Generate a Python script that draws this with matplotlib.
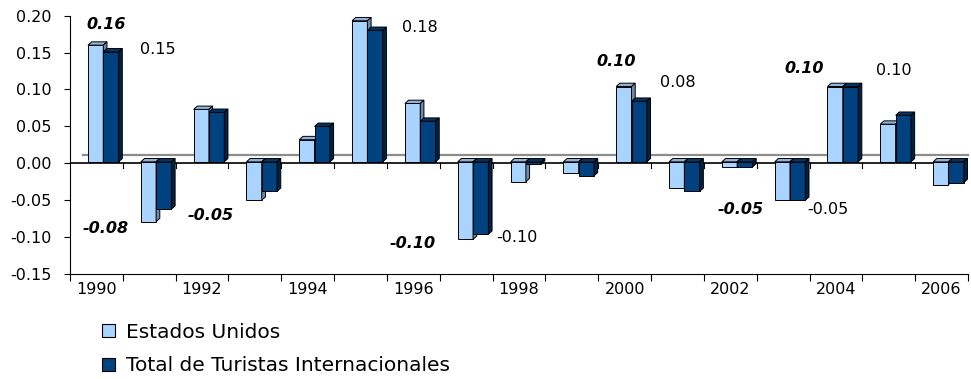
import numpy as np
import matplotlib
matplotlib.use("Agg")
import matplotlib.pyplot as plt
from matplotlib.patches import Polygon, Patch

plt.rcParams["font.family"] = ["DejaVu Sans"]

years = list(range(1990, 2007))
estados_unidos = [0.16, -0.079, 0.073, -0.050, 0.032, 0.193, 0.081, -0.103, -0.025,
                  -0.013, 0.104, -0.034, -0.005, -0.050, 0.104, 0.053, -0.029]
total_turistas = [0.151, -0.062, 0.069, -0.038, 0.050, 0.180, 0.057, -0.096, -0.001,
                  -0.017, 0.084, -0.038, -0.005, -0.050, 0.104, 0.065, -0.026]
series_names = ["Estados Unidos", "Total de Turistas Internacionales"]

# labelled values: (year, series index, x offset from category, y position, bold italic)
value_labels = [
    (1990, 0, 0.19, 0.1886, True),
    (1990, 1, 1.17, 0.1547, False),
    (1991, 0, -0.82, -0.0876, True),
    (1993, 0, -0.83, -0.0700, True),
    (1995, 1, 1.13, 0.1845, False),
    (1997, 0, -1.01, -0.1079, True),
    (1997, 1, 0.96, -0.0998, False),
    (2000, 0, -0.16, 0.1385, True),
    (2000, 1, 1.00, 0.1100, False),
    (2003, 0, -0.80, -0.0619, True),
    (2003, 1, 0.85, -0.0619, False),
    (2004, 0, -0.60, 0.1290, True),
    (2004, 1, 1.10, 0.1260, False),
]

# front / top / side face colours for each series
face_colors = [
    ("#a8d4ff", "#8fb2d8", "#6f8aa8"),
    ("#00427f", "#003566", "#002242"),
]

fig = plt.figure(figsize=(9.71, 3.79), dpi=100)
ax = fig.add_axes([70 / 971, 1 - 274.1 / 379, 898 / 971, 258.5 / 379])

n = len(years)
ax.set_xlim(-0.5, n - 0.5)
ax.set_ylim(-0.15, 0.20)

bar_w = 0.29
group_left = -0.16
depth_x = 0.07
depth_y = 0.0045
base = 0.002

# floor: back edge (grey) and front edge at zero
ax.plot([-0.25, n - 0.5], [0.0113, 0.0113], color="#8c8c8c", lw=1.6, zorder=1, clip_on=False)
ax.axhline(0, color="black", lw=1.2, zorder=1)
for k in range(1, n):
    ax.plot([k - 0.5, k - 0.5], [0, -0.006], color="black", lw=0.8, zorder=1)

series = [estados_unidos, total_turistas]
for i in range(n):
    for s, vals in enumerate(series):
        v = vals[i]
        x0 = i + group_left + s * bar_w
        x1 = x0 + bar_w
        top = max(v, base)
        bot = min(v, base)
        front, topc, side = face_colors[s]
        ax.add_patch(Polygon([(x0, bot), (x1, bot), (x1, top), (x0, top)],
                             closed=True, fc=front, ec="black", lw=0.7, zorder=3))
        ax.add_patch(Polygon([(x0, top), (x1, top), (x1 + depth_x, top + depth_y),
                              (x0 + depth_x, top + depth_y)],
                             closed=True, fc=topc, ec="black", lw=0.7, zorder=3))
        ax.add_patch(Polygon([(x1, bot), (x1 + depth_x, bot + depth_y),
                              (x1 + depth_x, top + depth_y), (x1, top)],
                             closed=True, fc=side, ec="black", lw=0.7, zorder=3))

for year, s, dx, ypos, bold in value_labels:
    i = years.index(year)
    v = series[s][i]
    ax.text(i + dx, ypos, f"{v:.2f}", ha="center", va="center", fontsize=11.5,
            fontweight="bold" if bold else "normal",
            fontstyle="italic" if bold else "normal", zorder=4)

# axes styling
for side in ["top", "right"]:
    ax.spines[side].set_visible(False)
ax.spines["left"].set_linewidth(0.8)
ax.spines["bottom"].set_linewidth(0.8)

yt = np.arange(-0.15, 0.2001, 0.05)
ax.set_yticks(yt)
ax.set_yticklabels([f"{t:.2f}" for t in yt])
ax.tick_params(axis="y", direction="out", length=4, width=0.8, pad=9, labelsize=11.5)

ax.set_xticks(np.arange(-0.5, n, 1.0))
ax.set_xticklabels([])
ax.set_xticks(np.arange(0, n, 2), minor=True)
ax.set_xticklabels([str(y) for y in years[::2]], minor=True)
ax.tick_params(axis="x", which="major", direction="out", length=5, width=0.8)
ax.tick_params(axis="x", which="minor", length=0, pad=6, labelsize=11.5)

handles = [Patch(fc=face_colors[s][0], ec="black", lw=0.8) for s in range(2)]
fig.legend(handles, series_names, loc="upper left", bbox_to_anchor=(94 / 971, 1 - 315 / 379),
           frameon=False, fontsize=14.5, handlelength=0.62, handleheight=0.62,
           handletextpad=0.55, labelspacing=0.7, borderaxespad=0)

fig.savefig("out.png", dpi=100)
